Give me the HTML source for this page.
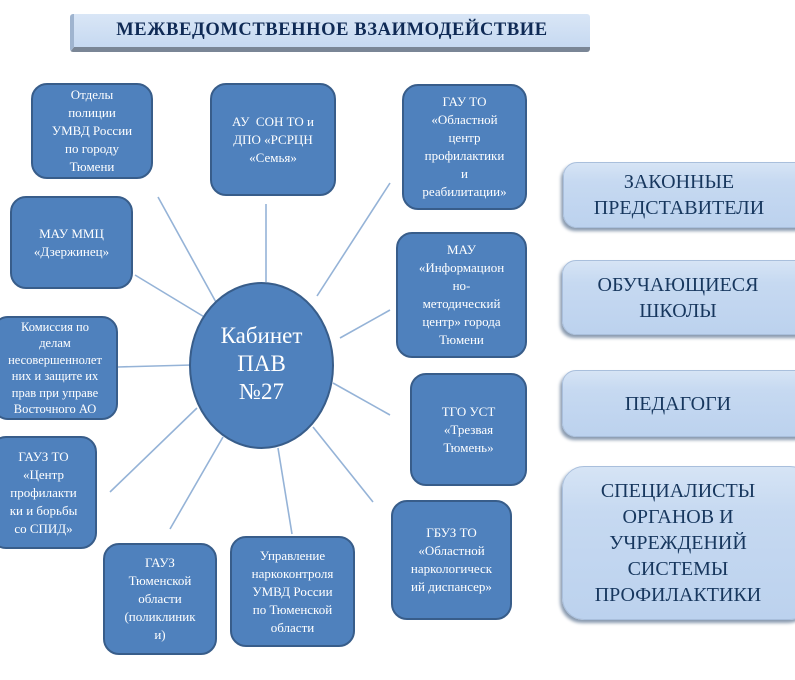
<!DOCTYPE html>
<html><head><meta charset="utf-8"><style>
body{margin:0;width:795px;height:680px;background:#fff;position:relative;overflow:hidden;font-family:"Liberation Serif",serif}
.b{position:absolute;box-sizing:border-box;background:#4f81bd;border:2px solid #385d8a;border-radius:16px;color:#fff;font-size:13px;line-height:18px;display:flex;align-items:center;justify-content:center;text-align:center;overflow:hidden}
.r{position:absolute;box-sizing:border-box;background:linear-gradient(#d6e4f5,#c6d9f1 30%,#bcd2ee);border-radius:14px;color:#17375e;font-size:20px;line-height:26px;display:flex;align-items:center;justify-content:center;text-align:center;box-shadow:-2px 3px 3px #8a9bb0;border:1px solid #a9bfdc}
svg{position:absolute;left:0;top:0}
</style></head><body>
<div style="position:absolute;left:70px;top:14px;width:520px;height:38px;box-sizing:border-box;background:linear-gradient(#d9e6f6,#c6d9f1);border-bottom:5px solid #7a8696;border-left:4px solid #9fb4cf;border-radius:3px;display:flex;align-items:center;justify-content:center;font-weight:bold;font-size:18.5px;letter-spacing:0.6px;color:#0f2a55">МЕЖВЕДОМСТВЕННОЕ ВЗАИМОДЕЙСТВИЕ</div>
<svg width="795" height="680"><g stroke="#95b3d7" stroke-width="1.6">
<line x1="158" y1="197" x2="217" y2="304"/><line x1="266" y1="204" x2="266" y2="282"/>
<line x1="390" y1="183" x2="317" y2="296"/><line x1="135" y1="275" x2="206" y2="318"/>
<line x1="390" y1="310" x2="340" y2="338"/><line x1="118" y1="367" x2="192" y2="365"/>
<line x1="333" y1="383" x2="390" y2="415"/><line x1="197" y1="408" x2="110" y2="492"/>
<line x1="223" y1="437" x2="170" y2="529"/><line x1="278" y1="448" x2="292" y2="534"/>
<line x1="313" y1="427" x2="373" y2="502"/></g>
<ellipse cx="261.5" cy="365.5" rx="71.5" ry="82.5" fill="#4f81bd" stroke="#385d8a" stroke-width="2"/></svg>
<div style="position:absolute;left:190px;top:322px;width:143px;text-align:center;color:#fff;font-size:23px;line-height:28px">Кабинет<br>ПАВ<br>№27</div>
<div class="b" style="left:31px;top:83px;width:122px;height:96px">Отделы<br>полиции<br>УМВД России<br>по городу<br>Тюмени</div>
<div class="b" style="left:210px;top:83px;width:126px;height:113px">АУ &nbsp;СОН ТО и<br>ДПО «РСРЦН<br>«Семья»</div>
<div class="b" style="left:402px;top:84px;width:125px;height:126px">ГАУ ТО<br>«Областной<br>центр<br>профилактики<br>и<br>реабилитации»</div>
<div class="b" style="left:10px;top:196px;width:123px;height:93px">МАУ ММЦ<br>«Дзержинец»</div>
<div class="b" style="left:396px;top:232px;width:131px;height:126px">МАУ<br>«Информацион<br>но-<br>методический<br>центр» города<br>Тюмени</div>
<div class="b" style="left:-8px;top:316px;width:126px;height:104px;line-height:16.5px;font-size:12.5px">Комиссия по<br>делам<br>несовершеннолет<br>них и защите их<br>прав при управе<br>Восточного АО</div>
<div class="b" style="left:410px;top:373px;width:117px;height:113px">ТГО УСТ<br>«Трезвая<br>Тюмень»</div>
<div class="b" style="left:-10px;top:436px;width:107px;height:113px">ГАУЗ ТО<br>«Центр<br>профилакти<br>ки и борьбы<br>со СПИД»</div>
<div class="b" style="left:103px;top:543px;width:114px;height:112px">ГАУЗ<br>Тюменской<br>области<br>(поликлиник<br>и)</div>
<div class="b" style="left:230px;top:536px;width:125px;height:111px">Управление<br>наркоконтроля<br>УМВД России<br>по Тюменской<br>области</div>
<div class="b" style="left:391px;top:500px;width:121px;height:120px">ГБУЗ ТО<br>«Областной<br>наркологическ<br>ий диспансер»</div>
<div class="r" style="left:563px;top:162px;width:250px;height:66px;padding-right:18px">ЗАКОННЫЕ<br>ПРЕДСТАВИТЕЛИ</div>
<div class="r" style="left:562px;top:260px;width:250px;height:75px;padding-right:18px">ОБУЧАЮЩИЕСЯ<br>ШКОЛЫ</div>
<div class="r" style="left:562px;top:370px;width:250px;height:67px;padding-right:18px">ПЕДАГОГИ</div>
<div class="r" style="left:562px;top:466px;width:250px;height:154px;padding-right:18px;border-radius:22px">СПЕЦИАЛИСТЫ<br>ОРГАНОВ И<br>УЧРЕЖДЕНИЙ<br>СИСТЕМЫ<br>ПРОФИЛАКТИКИ</div>
</body></html>
